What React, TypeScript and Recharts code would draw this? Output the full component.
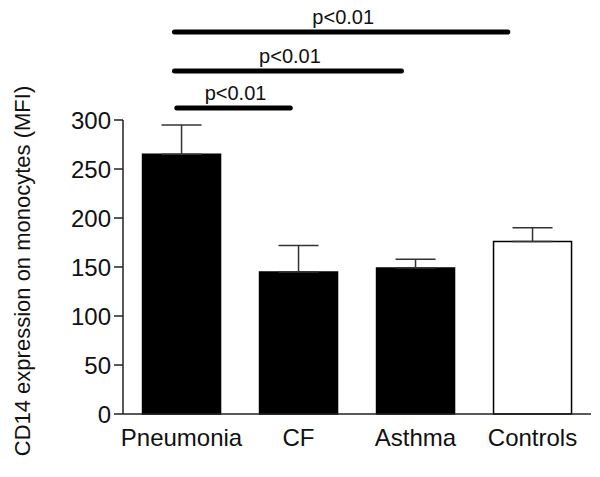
import React from "react";
import { BarChart, Bar, XAxis, YAxis, ErrorBar, Cell } from "recharts";

const groups = ["Pneumonia", "CF", "Asthma", "Controls"];
const meanMfi = [265, 145, 149, 176];
const semMfi = [30, 27, 9, 14];
const barFills = ["#000000", "#000000", "#000000", "#ffffff"];
const yTicks = [0, 50, 100, 150, 200, 250, 300];

// significance brackets, positions in category-band units
const sigLabels = ["p<0.01", "p<0.01", "p<0.01"];
const sigStart = [0.46, 0.44, 0.44];
const sigEnd = [1.43, 2.38, 3.29];
const sigY = [108, 71, 32];

const WIDTH = 600;
const HEIGHT = 477;
const MARGIN = { top: 120, right: 9, bottom: 0, left: 0 };
const Y_AXIS_WIDTH = 123;
const X_AXIS_HEIGHT = 63;
const FONT = "'Liberation Sans', Arial, Helvetica, sans-serif";

const data = groups.map((g, i) => ({
  name: g,
  value: meanMfi[i],
  err: [0, semMfi[i]],
}));

const App: React.FC = () => {
  const plotLeft = MARGIN.left + Y_AXIS_WIDTH;
  const plotWidth = WIDTH - plotLeft - MARGIN.right;
  const band = plotWidth / groups.length;

  return (
    <div
      style={{
        position: "absolute",
        left: 0,
        top: 0,
        width: WIDTH,
        height: HEIGHT,
        background: "#fff",
        fontFamily: FONT,
      }}
    >
      <BarChart width={WIDTH} height={HEIGHT} data={data} margin={MARGIN} barCategoryGap="16.7%">
        <XAxis
          dataKey="name"
          height={X_AXIS_HEIGHT}
          tickLine={false}
          tickMargin={9}
          axisLine={{ stroke: "#222", strokeWidth: 1.5 }}
          tick={{ fill: "#111", fontSize: 24, fontFamily: FONT }}
        />
        <YAxis
          width={Y_AXIS_WIDTH}
          domain={[0, 300]}
          ticks={yTicks}
          interval={0}
          tickSize={9}
          tickMargin={3}
          axisLine={{ stroke: "#222", strokeWidth: 1.5 }}
          tickLine={{ stroke: "#222", strokeWidth: 1.5 }}
          tick={{ fill: "#111", fontSize: 24, fontFamily: FONT }}
          label={{
            value: "CD14 expression on monocytes (MFI)",
            angle: -90,
            position: "center",
            dx: -39,
            dy: 4,
            style: { fill: "#111", fontSize: 22, fontFamily: FONT, textAnchor: "middle" },
          }}
        />
        <Bar dataKey="value" stroke="#000" strokeWidth={1.5} isAnimationActive={false}>
          {data.map((d, i) => (
            <Cell key={d.name} fill={barFills[i]} />
          ))}
          <ErrorBar dataKey="err" direction="y" width={20} stroke="#333" strokeWidth={1.5} />
        </Bar>
      </BarChart>
      <svg
        width={WIDTH}
        height={HEIGHT}
        style={{ position: "absolute", left: 0, top: 0, pointerEvents: "none" }}
      >
        {sigLabels.map((lab, i) => {
          const x1 = plotLeft + band * sigStart[i];
          const x2 = plotLeft + band * sigEnd[i];
          const mid = (x1 + x2) / 2 + 2;
          return (
            <g key={i}>
              <line
                x1={x1}
                x2={x2}
                y1={sigY[i]}
                y2={sigY[i]}
                stroke="#000"
                strokeWidth={5}
                strokeLinecap="round"
              />
              <text
                x={mid}
                y={sigY[i] - 8}
                textAnchor="middle"
                fontSize={20}
                fontFamily={FONT}
                fill="#111"
              >
                {lab}
              </text>
            </g>
          );
        })}
      </svg>
    </div>
  );
};

export default App;
